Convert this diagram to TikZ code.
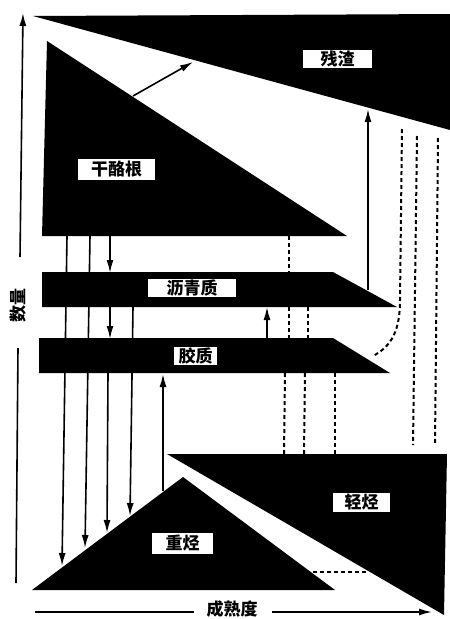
\documentclass[tikz,border=0pt]{standalone}
\usepackage{fontspec}
\newfontfamily\cjk{Noto Sans CJK SC}
\usetikzlibrary{arrows.meta}
\begin{document}
\begin{tikzpicture}[x=1pt,y=-1pt,
  blk/.style={fill=black,draw=none},
  lbl/.style={fill=white,inner sep=0pt,font=\cjk\bfseries\fontsize{17}{17}\selectfont,text=black},
  ln/.style={line width=1.6pt},
  arr/.style={line width=1.6pt,-{Latex[length=13pt,width=7pt]}},
  dsh/.style={line width=2pt,dash pattern=on 4pt off 3pt},
  axlbl/.style={inner sep=0pt,font=\cjk\bfseries\fontsize{17}{17}\selectfont}]
\useasboundingbox (0,0) rectangle (450,619);
\fill[white] (0,0) rectangle (450,619);
% shapes
\fill[blk] (33,16) -- (450,14) -- (450,130) -- cycle;
\fill[blk] (47,41) -- (347,236) -- (42,236) -- cycle;
\fill[blk] (42,272) -- (333,272) -- (397,307) -- (42,307) -- cycle;
\fill[blk] (39,338) -- (333,338) -- (390,373) -- (39,373) -- cycle;
\fill[blk] (167,454) -- (447,454) -- (444,615) -- cycle;
\fill[blk] (32,590) -- (183,477) -- (335,590) -- cycle;
% labels
\node[lbl,minimum width=69pt,minimum height=18pt] (res) at (337.5,59) {残渣};
\node[lbl,minimum width=77pt,minimum height=21pt] (ker) at (116.5,169.5) {干酪根};
\node[lbl,minimum width=88pt,minimum height=18pt] (asp) at (192,288) {沥青质};
\node[lbl,minimum width=43pt,minimum height=18pt] (col) at (195.5,356) {胶质};
\node[lbl,minimum width=61pt,minimum height=21pt] (hhc) at (182.5,543.5) {重烃};
\node[lbl,minimum width=57pt,minimum height=19pt] (lhc) at (361.5,502.5) {轻烃};
\node[axlbl] (mat) at (232,609) {成熟度};
\node[axlbl,rotate=90] (qty) at (18,305) {数量};
% axes
\draw[ln] (16,583) -- (18,348);
\draw[arr] (20,257) -- (23,13);
\draw[ln] (35,612) -- (194,612);
\draw[arr] (272,612) -- (432,612);
% solid arrows
\draw[arr] (133,96) -- (193,62);
\draw[arr] (67,236) -- (62,566);
\draw[arr] (90,236) -- (85,548);
\draw[arr] (110,236) -- (110,273);
\draw[arr] (110,307) -- (110,339);
\draw[arr] (108,373) -- (107,533);
\draw[arr] (133,307) -- (130,516);
\draw[arr] (163,491) -- (163,374);
\draw[arr] (267,338) -- (267,307);
\draw[arr] (368,290) -- (368,109);
% dashed
\draw[dsh] (289,236) -- (289,272);
\draw[dsh] (289,307) -- (289,338);
\draw[dsh] (308,307) -- (308,338);
\draw[dsh] (285,373) -- (284,454);
\draw[dsh] (305,373) -- (304,454);
\draw[dsh] (335,373) -- (335,454);
\draw[dsh] (402,129) -- (400,300) .. controls (400,330) and (392,346) .. (373,356);
\draw[dsh] (417,136) -- (413,445);
\draw[dsh] (438,138) -- (435,445);
\draw[dsh] (313,572) -- (367,572);
\end{tikzpicture}
\end{document}
